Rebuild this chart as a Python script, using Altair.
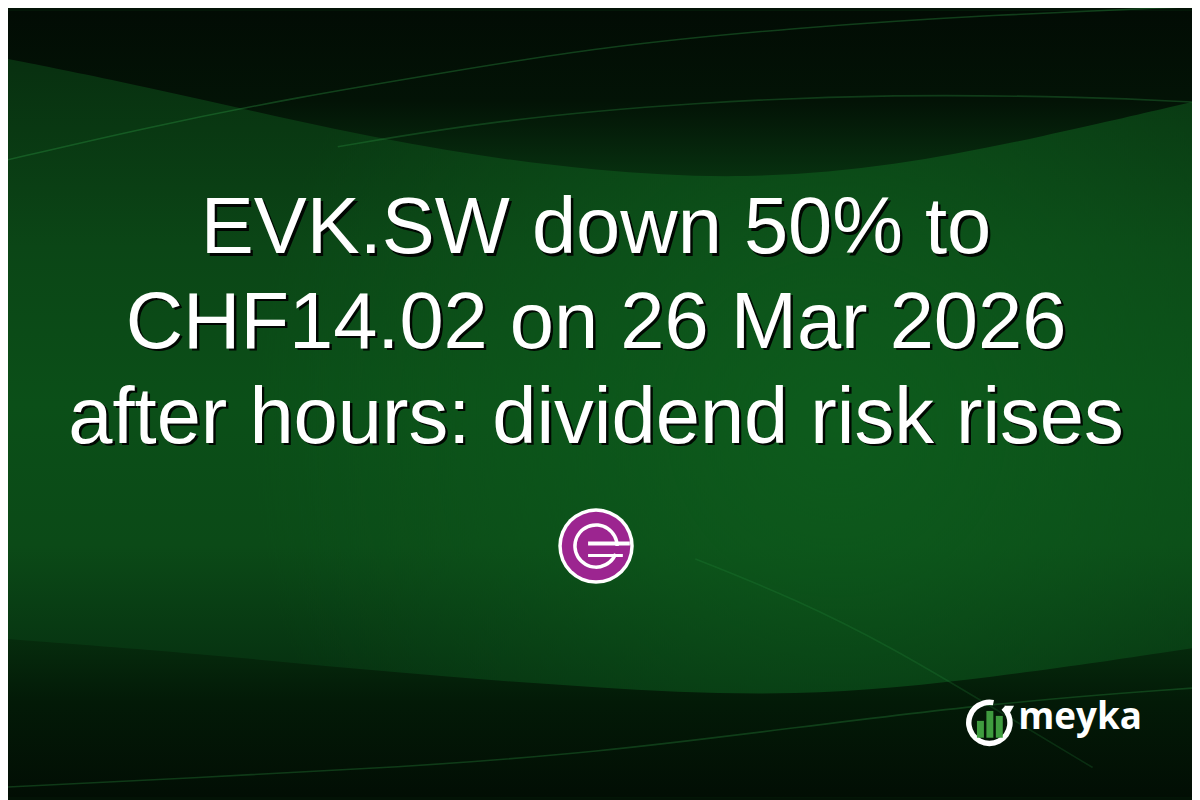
import altair as alt
import pandas as pd

# Drawing area; the page itself adds an 8px margin round the chart.
W, H = 1192, 792

headline_lines = [
    "EVK.SW down 50% to",
    "CHF14.02 on 26 Mar 2026",
    "after hours: dividend risk rises",
]
brand_name = "meyka"
icon_bars = ["a", "b", "c"]
icon_bar_heights = [17, 27, 22]

# soft light streaks in the background (picture pixels)
streak_top_x = [0, 150, 300, 450, 600, 800, 1000, 1200]
streak_top_y = [160, 125, 95, 70, 45, 25, 12, 4]
streak_mid_x = [340, 500, 700, 900, 1100, 1200]
streak_mid_y = [145, 118, 100, 92, 95, 100]
streak_low_x = [0, 200, 400, 600, 800, 1000, 1200]
streak_low_y = [790, 780, 770, 755, 730, 705, 690]
streak_fall_x = [700, 800, 900, 1000, 1100]
streak_fall_y = [560, 600, 650, 710, 770]

# dark bands at top and bottom
dark_top_x = [0, 150, 300, 450, 600, 750, 900, 1050, 1200]
dark_top_y = [55, 85, 120, 150, 170, 178, 165, 135, 100]
dark_bot_x = [0, 200, 400, 600, 800, 1000, 1200]
dark_bot_y = [640, 655, 675, 690, 700, 680, 650]

px_x = alt.Scale(domain=[8, 1200], range=[0, W])
px_y = alt.Scale(domain=[8, 800], range=[0, H])

FONT = "Liberation Sans"
PURPLE = "#9c2590"
one = pd.DataFrame({"k": [0]})


def stops(*pairs):
  return [{"offset": o, "color": c} for o, c in pairs]


def ex(v):
  return alt.value(v - 8)


def band(xs, ys, edge, grad):
  df = pd.DataFrame({"x": xs, "y": ys, "edge": [edge] * len(xs)})
  return alt.Chart(df).mark_area(interpolate="basis", color=grad).encode(
      x=alt.X("x:Q", scale=px_x, axis=None),
      y=alt.Y("y:Q", scale=px_y, axis=None), y2="edge:Q")


def vgrad(*pairs):
  return {"gradient": "linear", "x1": 0, "y1": 0, "x2": 0, "y2": 1,
          "stops": stops(*pairs)}


background = band([8, 1200], [8, 8], 800, vgrad(
    (0, "#072a0e"), (0.3, "#0b4616"), (0.5, "#0b4f18"), (0.68, "#0b4a17"),
    (0.85, "#063010"), (1, "#031a07")))

glow = alt.Chart(one).mark_rect(
    color={"gradient": "radial", "x1": 0.7, "y1": 0.52, "r1": 0,
           "x2": 0.7, "y2": 0.52, "r2": 0.5,
           "stops": stops((0, "rgba(14,96,30,0.7)"), (1, "rgba(14,96,30,0)"))}
).encode(x=alt.value(0), x2=alt.value(W), y=alt.value(0), y2=alt.value(H))

dark_top = band(dark_top_x, dark_top_y, 8, vgrad(
    (0, "#020c04"), (0.55, "#031306"), (1, "#07300f")))
dark_bot = band(dark_bot_x, dark_bot_y, 800, vgrad(
    (0, "#062c0d"), (0.4, "#031a07"), (1, "#020e04")))


def streak(xs, ys, opacity):
  return alt.Chart(pd.DataFrame({"x": xs, "y": ys})).mark_line(
      interpolate="basis", color="#2f9a45", strokeWidth=1.6, opacity=opacity
  ).encode(x=alt.X("x:Q", scale=px_x, axis=None),
           y=alt.Y("y:Q", scale=px_y, axis=None))


streaks = [
    streak(streak_top_x, streak_top_y, 0.35),
    streak(streak_mid_x, streak_mid_y, 0.3),
    streak(streak_low_x, streak_low_y, 0.3),
    streak(streak_fall_x, streak_fall_y, 0.2),
]

# headline: white text over a black drop shadow
lines = pd.DataFrame({"line": headline_lines, "row": range(len(headline_lines))})
headline = alt.Chart(lines).transform_calculate(
    cx="600", base="252 + datum.row * 95.5"
).encode(
    x=alt.X("cx:Q", scale=px_x, axis=None),
    y=alt.Y("base:Q", scale=px_y, axis=None),
    text="line:N",
)
text_style = dict(font=FONT, fontSize=80, align="center", baseline="alphabetic")
shadow = headline.mark_text(color="black", opacity=0.9, dx=2.5, dy=2.5, **text_style)
front = headline.mark_text(color="white", **text_style)


# company logo: purple disc with a white "e"
def disc(r, color, r2=0, t1=0, t2=6.2832):
  return alt.Chart(one).mark_arc(
      radius=r, radius2=r2, theta=t1, theta2=t2, color=color
  ).encode(x=ex(600), y=ex(547))


logo = [
    disc(38, "white"),
    disc(34.5, PURPLE),
    disc(23, "white", r2=19.5, t1=1.95, t2=6.2832 + 1.57),
    alt.Chart(one).mark_rect(color="white").encode(
        x=ex(592), x2=ex(634), y=ex(542.5), y2=ex(546.5)),
    alt.Chart(one).mark_rect(color="white").encode(
        x=ex(592), x2=ex(627), y=ex(555), y2=ex(558)),
]

# meyka brand: ring with arrow, three green bars, word mark
ring = alt.Chart(one).mark_arc(
    radius=23.5, radius2=18, theta=0.75, theta2=6.2832 + 0.2, color="white"
).encode(x=ex(996), y=ex(725))
arrow = alt.Chart(one).mark_point(
    shape="triangle-down", filled=True, size=95, color="white", opacity=1
).encode(x=ex(1016), y=ex(712))
bars = alt.Chart(pd.DataFrame({"bar": icon_bars, "h": icon_bar_heights,
                               "i": range(3)})).transform_calculate(
    x0="983.5 + datum.i * 9.5", x1="990.5 + datum.i * 9.5",
    top="740 - datum.h", bottom="740",
).mark_rect(color="#3f9c3f").encode(
    x=alt.X("x0:Q", scale=px_x, axis=None), x2="x1:Q",
    y=alt.Y("top:Q", scale=px_y, axis=None), y2="bottom:Q",
)
word = alt.Chart(pd.DataFrame({"t": [brand_name]})).mark_text(
    font="Open Sans", fontWeight="bold", fontSize=37, color="white",
    align="left", baseline="alphabetic"
).encode(x=ex(1025), y=ex(731), text="t:N")

chart = alt.layer(
    background, glow, dark_top, dark_bot, *streaks,
    shadow, front, *logo, ring, arrow, bars, word,
).properties(
    width=W, height=H, padding=0, autosize=alt.AutoSizeParams(type="none"),
    background="#031306",
).configure_view(stroke=None)

chart.save("out.html", embed_options={"renderer": "svg", "actions": False})
